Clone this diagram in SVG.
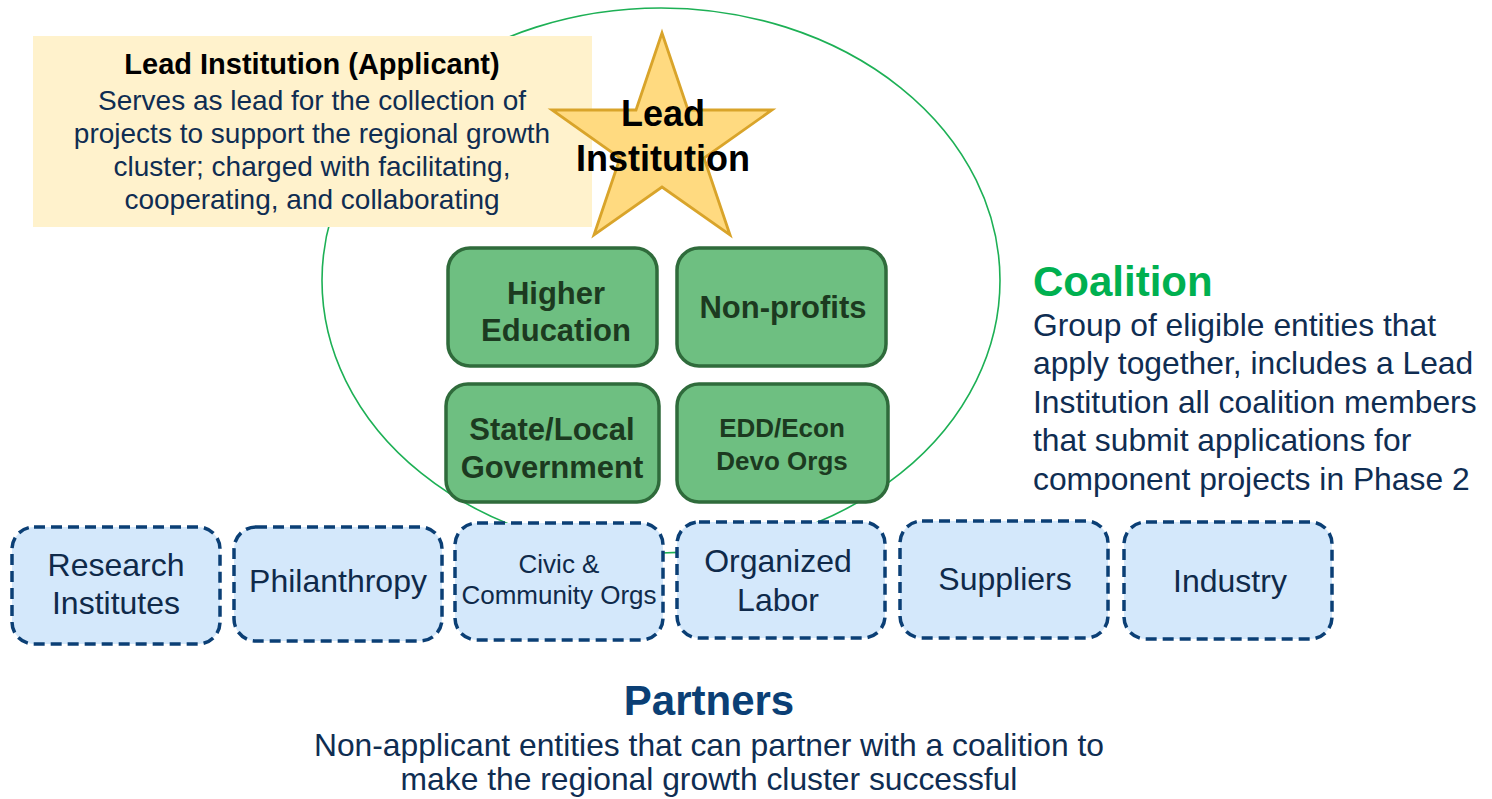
<svg xmlns="http://www.w3.org/2000/svg" width="1492" height="799" viewBox="0 0 1492 799">
<style>
text{font-family:"Liberation Sans",Arial,sans-serif}
.g rect{fill:#6EBF81;stroke:#2F6B3B;stroke-width:3.5}
.g text{fill:#1C3A20;font-weight:bold;text-anchor:middle}
.p rect{fill:#D4E8FB;stroke:#0B3F75;stroke-width:3.5;stroke-dasharray:11 6}
.p text{fill:#0F2A4A;text-anchor:middle;font-size:32px}
.navy{fill:#0F2D52}
</style>
<rect width="1492" height="799" fill="#fff"/>
<g id="coalition-boundary">
<ellipse cx="661" cy="280.5" rx="339" ry="272.5" fill="none" stroke="#1DB055" stroke-width="1.6"/>
</g>
<g id="lead-callout">
<rect x="33" y="36" width="559" height="191" fill="#FFF2CC"/>
<text x="312" y="74" font-size="29" font-weight="bold" text-anchor="middle" fill="#000">Lead Institution (Applicant)</text>
<text class="navy" x="312" y="110" font-size="28" text-anchor="middle">Serves as lead for the collection of</text>
<text class="navy" x="312" y="143" font-size="28" text-anchor="middle">projects to support the regional growth</text>
<text class="navy" x="312" y="176" font-size="28" text-anchor="middle">cluster; charged with facilitating,</text>
<text class="navy" x="312" y="209" font-size="28" text-anchor="middle">cooperating, and collaborating</text>
</g>
<g id="lead-star">
<polygon points="662,33 688,110 772,110 704,158 730,235 662,187 594,235 620,158 552,110 636,110" fill="#FFDA80" stroke="#D9A42A" stroke-width="2.8" stroke-linejoin="miter"/>
<text x="663" y="126" font-size="36" font-weight="bold" text-anchor="middle" fill="#000">Lead</text>
<text x="663" y="171" font-size="36" font-weight="bold" text-anchor="middle" fill="#000">Institution</text>
</g>
<g id="higher-education" class="g">
<rect x="448" y="248" width="209" height="118" rx="22"/>
<text x="556" y="304" font-size="31">Higher</text>
<text x="556" y="341" font-size="31">Education</text>
</g>
<g id="non-profits" class="g">
<rect x="677" y="248" width="209" height="118" rx="22"/>
<text x="783" y="318" font-size="31">Non-profits</text>
</g>
<g id="state-local-government" class="g">
<rect x="446" y="384" width="213" height="118" rx="22"/>
<text x="552" y="440" font-size="31">State/Local</text>
<text x="552" y="478" font-size="31">Government</text>
</g>
<g id="edd-econ-devo" class="g">
<rect x="677" y="384" width="211" height="118" rx="22"/>
<text x="782" y="437" font-size="26">EDD/Econ</text>
<text x="782" y="470" font-size="26">Devo Orgs</text>
</g>
<g id="research-institutes" class="p">
<rect x="12" y="527" width="208" height="117" rx="22"/>
<text x="116" y="576">Research</text>
<text x="116" y="614">Institutes</text>
</g>
<g id="philanthropy" class="p">
<rect x="234" y="527" width="208" height="114" rx="22"/>
<text x="338" y="592">Philanthropy</text>
</g>
<g id="civic-community" class="p">
<rect x="455" y="523" width="208" height="117" rx="22"/>
<text x="559" y="573" style="font-size:26px">Civic &amp;</text>
<text x="559" y="604" style="font-size:26px">Community Orgs</text>
</g>
<g id="organized-labor" class="p">
<rect x="677" y="522" width="208" height="116" rx="22"/>
<text x="778" y="572">Organized</text>
<text x="778" y="611">Labor</text>
</g>
<g id="suppliers" class="p">
<rect x="900" y="521" width="208" height="117" rx="22"/>
<text x="1005" y="590">Suppliers</text>
</g>
<g id="industry" class="p">
<rect x="1124" y="522" width="208" height="117" rx="22"/>
<text x="1230" y="592">Industry</text>
</g>
<g id="coalition-label">
<text x="1033" y="296" font-size="42" font-weight="bold" fill="#00B050">Coalition</text>
<text class="navy" x="1033" y="336" font-size="31.8">Group of eligible entities that</text>
<text class="navy" x="1033" y="374" font-size="31.8">apply together, includes a Lead</text>
<text class="navy" x="1033" y="413" font-size="31.8">Institution all coalition members</text>
<text class="navy" x="1033" y="451" font-size="31.8">that submit applications for</text>
<text class="navy" x="1033" y="490" font-size="31.8">component projects in Phase 2</text>
</g>
<g id="partners-label">
<text x="709" y="715" font-size="42" font-weight="bold" text-anchor="middle" fill="#0B3F75">Partners</text>
<text class="navy" x="709" y="756" font-size="31.8" text-anchor="middle">Non-applicant entities that can partner with a coalition to</text>
<text class="navy" x="709" y="790" font-size="31.8" text-anchor="middle">make the regional growth cluster successful</text>
</g>
<g id="connectors"/>
</svg>
